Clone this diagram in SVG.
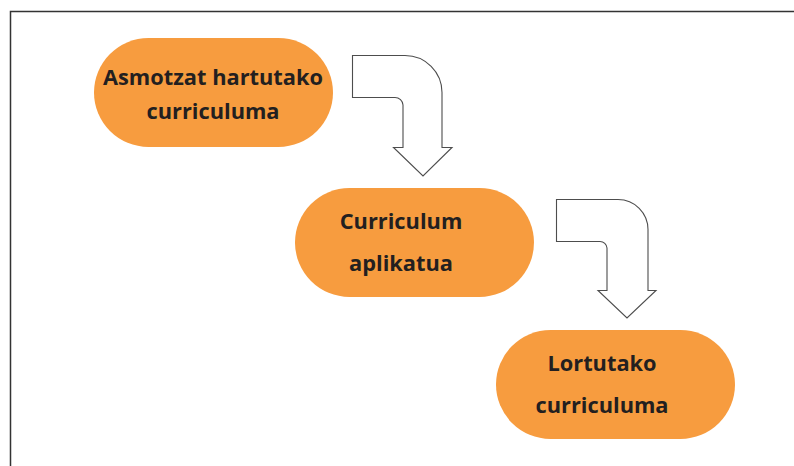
<svg xmlns="http://www.w3.org/2000/svg" width="794" height="466" viewBox="0 0 794 466">
<style>
.node{fill:#F79C3F;}
.lbl{font-family:"Open Sans","Liberation Sans",sans-serif;font-weight:bold;font-size:21.8px;fill:#231F20;text-anchor:middle;}
.arrow{fill:#FFFFFF;stroke:#4D4D4D;stroke-width:1.1;stroke-linejoin:miter;}
</style>
<rect width="794" height="466" fill="#FFFFFF"/>
<path d="M10.5,466 L10.5,11.5 L794,11.5" fill="none" stroke="#333333" stroke-width="1.5"/>
<g id="connectors">
<path class="arrow" d="M352.5,55.5 L405,55.5 A37,37 0 0 1 442,92.5 L442,147.5 L452,147.5 L423,176 L393.5,147.5 L403,147.5 L403,105 A8,8 0 0 0 395,97.5 L352.5,97.5 Z"/>
<path class="arrow" d="M556.5,199.5 L618,199.5 A30,30 0 0 1 648,229.5 L648,290.5 L656,290.5 L627,318 L598,290.5 L607,290.5 L607,248 A7,7 0 0 0 600,241.5 L556.5,241.5 Z"/>
</g>
<g id="node1">
<rect class="node" x="94" y="38" width="239" height="109" rx="54.5" ry="54.5"/>
<text class="lbl" x="213" y="85">Asmotzat hartutako</text>
<text class="lbl" x="213" y="119">curriculuma</text>
</g>
<g id="node2">
<rect class="node" x="295" y="188" width="239" height="109" rx="54.5" ry="54.5"/>
<text class="lbl" x="401" y="229">Curriculum</text>
<text class="lbl" x="401" y="271">aplikatua</text>
</g>
<g id="node3">
<rect class="node" x="496" y="330" width="239" height="109" rx="54.5" ry="54.5"/>
<text class="lbl" x="602" y="371">Lortutako</text>
<text class="lbl" x="602" y="413">curriculuma</text>
</g>
</svg>
